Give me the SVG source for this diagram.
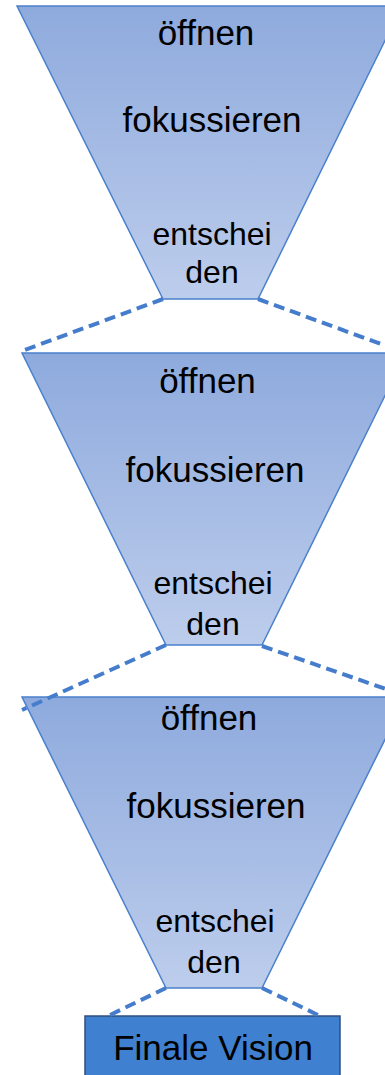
<svg xmlns="http://www.w3.org/2000/svg" width="385" height="1075" viewBox="0 0 385 1075">
<defs>
<linearGradient id="fg" x1="0" y1="0" x2="0" y2="1">
<stop offset="0" stop-color="#8eaadd"/>
<stop offset="1" stop-color="#bdcdec"/>
</linearGradient>
</defs>
<style>
.funnel{fill:url(#fg);stroke:#4a80cc;stroke-width:1.5;stroke-linejoin:miter}
.t{font-family:"Liberation Sans",Arial,sans-serif;fill:#000;text-anchor:middle}
.big{font-size:35px}
.small{font-size:32px}
.dash{stroke:#457dcc;stroke-width:4;stroke-dasharray:11 6;fill:none}
.box{fill:#4080d0;stroke:#2f4f7f;stroke-width:1.5}
</style>
<g id="funnel1">
<polygon class="funnel" points="17,6 402,6 258,299 163,299"/>
<text class="t big" x="206" y="45">öffnen</text>
<text class="t big" x="212" y="132">fokussieren</text>
<text class="t small" x="212" y="245">entschei</text>
<text class="t small" x="212" y="283">den</text>
</g>
<g id="funnel2">
<polygon class="funnel" points="22,353 406,353 262,645 166,645"/>
<text class="t big" x="207.5" y="393">öffnen</text>
<text class="t big" x="215" y="482">fokussieren</text>
<text class="t small" x="213" y="594">entschei</text>
<text class="t small" x="213" y="635">den</text>
</g>
<g id="funnel3">
<polygon class="funnel" points="22,697 406,697 262,988 166,988"/>
<text class="t big" x="209" y="730">öffnen</text>
<text class="t big" x="216" y="818">fokussieren</text>
<text class="t small" x="215" y="932">entschei</text>
<text class="t small" x="214" y="973">den</text>
</g>
<g id="final">
<rect class="box" x="85" y="1016" width="255" height="70"/>
<text class="t big" x="213" y="1060">Finale Vision</text>
</g>
<g id="connectors">
<line class="dash" x1="163" y1="299" x2="22" y2="351"/>
<line class="dash" x1="258" y1="299" x2="400" y2="351"/>
<line class="dash" x1="166" y1="645" x2="22" y2="710"/>
<line class="dash" x1="262" y1="646" x2="406" y2="696"/>
<line class="dash" x1="166" y1="988" x2="110" y2="1015"/>
<line class="dash" x1="262" y1="988" x2="318" y2="1015"/>
</g>
</svg>
